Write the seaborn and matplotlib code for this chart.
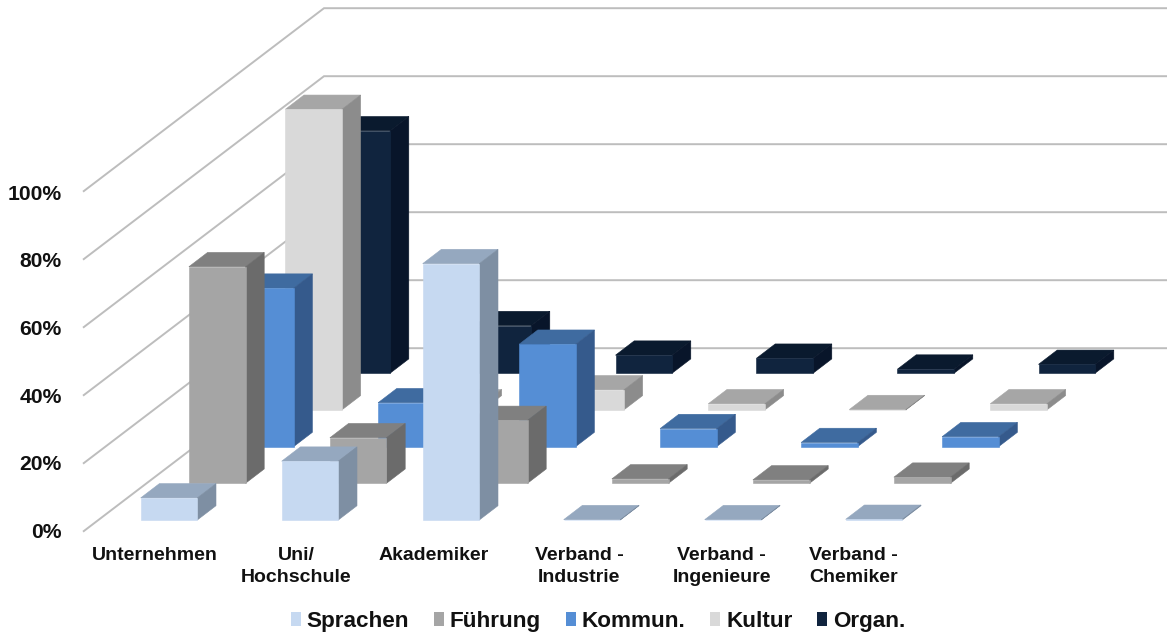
import matplotlib
matplotlib.use("Agg")
import matplotlib.pyplot as plt
import numpy as np
import pandas as pd
import seaborn as sns
from matplotlib.patches import Patch

# ---- data (percent) ----
categories = ["Unternehmen", "Uni/\nHochschule", "Akademiker",
              "Verband -\nIndustrie", "Verband -\nIngenieure", "Verband -\nChemiker"]
series_names = ["Sprachen", "Führung", "Kommun.", "Kultur", "Organ."]
sprachen = [6.5, 17.3, 75.4, 0.1, 0.1, 0.2]
fuehrung = [63.7, 13.4, 18.5, 1.3, 1.0, 1.8]
kommun = [46.6, 12.9, 30.1, 5.3, 1.2, 2.9]
kultur = [88.4, 1.8, 5.9, 1.8, 0.1, 1.8]
organ = [71.3, 14.0, 5.3, 4.4, 1.2, 2.6]
all_series = [sprachen, fuehrung, kommun, kultur, organ]
tick_values = [0, 20, 40, 60, 80, 100]

# ---- styles ----
front_colors = ["#C6D9F1", "#A5A5A5", "#558ED5", "#D9D9D9", "#10243E"]
top_colors = ["#95A8BF", "#808080", "#3F6BA0", "#A6A6A6", "#0A1A2E"]
side_colors = ["#7E8FA3", "#6B6B6B", "#355A8C", "#8C8C8C", "#08152A"]
FONT = "Liberation Sans"
TEXT = "#111111"

W, H = 1167, 634
PX_X = 141.0   # pixels per category
PX_Y = 3.4     # pixels per percent
BAR_W = 56.6 / PX_X
STEP_X = 48.2 / PX_X    # shift per series (oblique depth)
STEP_Y = 36.7 / PX_Y
DEPTH_X = 18.7 / PX_X   # depth of one bar
DEPTH_Y = 14.3 / PX_Y
SEAM = 0.4

sns.set_theme(style="white")
plt.rcParams["font.family"] = [FONT, "DejaVu Sans"]

fig = plt.figure(figsize=(W / 100, H / 100), dpi=100, facecolor="white")
ax = fig.add_axes([0, 0, 1, 1])

positions = np.arange(len(categories), dtype=float)

# back to front
for s in range(len(all_series) - 1, -1, -1):
    vals = np.asarray(all_series[s], dtype=float)
    px = positions + s * STEP_X
    base = s * STEP_Y
    z = 10 + (len(all_series) - s) * 3
    df = pd.DataFrame({"x": px, "value": vals})
    sns.barplot(data=df, x="x", y="value", native_scale=True, width=BAR_W,
                bottom=base, color=front_colors[s], saturation=1,
                errorbar=None, linewidth=SEAM, edgecolor=front_colors[s],
                zorder=z + 2, ax=ax)
    for xc, v in zip(px, vals):
        l, r = xc - BAR_W / 2, xc + BAR_W / 2
        t = base + v
        ax.fill([l, r, r + DEPTH_X, l + DEPTH_X],
                [t, t, t + DEPTH_Y, t + DEPTH_Y],
                facecolor=top_colors[s], edgecolor=top_colors[s], lw=SEAM, zorder=z)
        ax.fill([r, r + DEPTH_X, r + DEPTH_X, r],
                [base, base + DEPTH_Y, t + DEPTH_Y, t],
                facecolor=side_colors[s], edgecolor=side_colors[s], lw=SEAM, zorder=z + 1)

ax.set_xlim(-169 / PX_X, (W - 169) / PX_X)
ax.set_ylim(-(H - 520) / PX_Y, 520 / PX_Y)
ax.set_axis_off()

# oblique gridlines: front-left end -> back corner -> right edge
x0 = (83 - 169) / PX_X
y0 = -(531.7 - 520) / PX_Y
xb = x0 + 5 * STEP_X
yb = y0 + 5 * STEP_Y
xe = ax.get_xlim()[1]
for v in tick_values:
    ax.plot([x0, xb, xe], [y0 + v, yb + v, yb + v], color="#BDBDBD", lw=1.4,
            zorder=1, solid_capstyle="butt", solid_joinstyle="miter")

# value labels
for v in tick_values:
    ax.text((62 - 169) / PX_X, y0 + 0.995 * v - 0.2, f"{v}%", ha="right", va="center",
            fontsize=15.2, fontweight="bold", color=TEXT, family=FONT)

# category labels
label_shift = [-0.10, -0.10, -0.12, -0.09, -0.08, -0.145]
for p, c, d in zip(positions, categories, label_shift):
    ax.text(p + d, -(546.5 - 520) / PX_Y, c, ha="center", va="top", ma="center",
            fontsize=14, fontweight="bold", color=TEXT, family=FONT,
            linespacing=1.4)

# legend
handles = [Patch(facecolor=c, edgecolor="none", label=n)
           for c, n in zip(front_colors, series_names)]
fig.legend(handles=handles, loc="center", bbox_to_anchor=(598 / W, 1 - 621.5 / H),
           ncol=5, frameon=False, handlelength=0.45, handleheight=0.6,
           handletextpad=0.26, columnspacing=1.1,
           prop={"family": FONT, "weight": "bold", "size": 16.2},
           labelcolor=TEXT, borderpad=0, borderaxespad=0)

fig.savefig("out.png", dpi=100, facecolor="white")
